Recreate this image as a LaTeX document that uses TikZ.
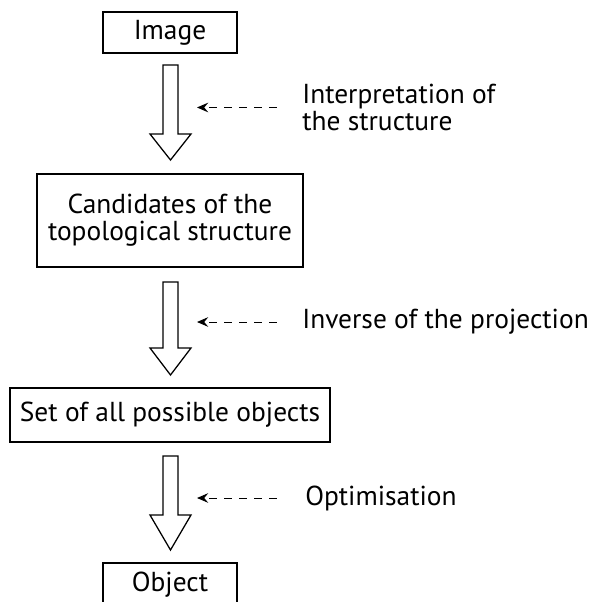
\documentclass[tikz,border=0pt]{standalone}
\usepackage{fontspec}
\setmainfont{PT Sans}
\usepackage{tikz}
\usetikzlibrary{arrows.meta, positioning}

\begin{document}
\begin{tikzpicture}[
    x=0.025cm, y=-0.025cm,
    font=\fontsize{19.5}{19}\selectfont,
    stage/.style={rectangle, draw, line width=0.9pt, align=center, inner sep=0pt},
    remark/.style={anchor=west, align=left, inner sep=0pt},
    hollow/.style={draw, line width=0.9pt, fill=white, line join=miter},
    hint/.style={-{Stealth[length=2.8mm, width=2.4mm, inset=1mm]}, line width=0.7pt, dash pattern=on 2mm off 1.75mm}
]
\useasboundingbox (0,0) rectangle (594,602);

% stages of the reconstruction
\node[stage, minimum width=3.35cm, minimum height=1.025cm] (image) at (170,32.5) {Image};
\node[stage, minimum width=6.65cm, minimum height=2.325cm] (cands) at (170,220.5) {Candidates of the\\topological structure};
\node[stage, minimum width=8cm, minimum height=1.35cm] (allobj) at (170,415) {Set of all possible objects};
\node[stage, minimum width=3.35cm, minimum height=1.1cm] (object) at (170,585) {Object};

% big hollow arrows
\draw[hollow] (163,65) -- (178,65) -- (178,134) -- (191,134) -- (170.5,160) -- (150,134) -- (163,134) -- cycle;
\draw[hollow] (163,282) -- (178,282) -- (178,348) -- (191,348) -- (170.5,375) -- (150,348) -- (163,348) -- cycle;
\draw[hollow] (163,456) -- (178,456) -- (178,515) -- (191,515) -- (170.5,550) -- (150,515) -- (163,515) -- cycle;

% what each step does
\node[remark] (interp) at (302,107.5) {Interpretation of\\the structure};
\node[remark] (invproj) at (302,322) {Inverse of the projection};
\node[remark] (optim) at (305,498) {Optimisation};

\coordinate (tipA) at (197,107.5);
\coordinate (tipB) at (197,322);
\coordinate (tipC) at (197,498);

\draw[hint, shorten <=0.625cm] (interp.west) -- (tipA);
\draw[hint, shorten <=0.625cm] (invproj.west) -- (tipB);
\draw[hint, shorten <=0.7cm] (optim.west) -- (tipC);
\end{tikzpicture}
\end{document}
